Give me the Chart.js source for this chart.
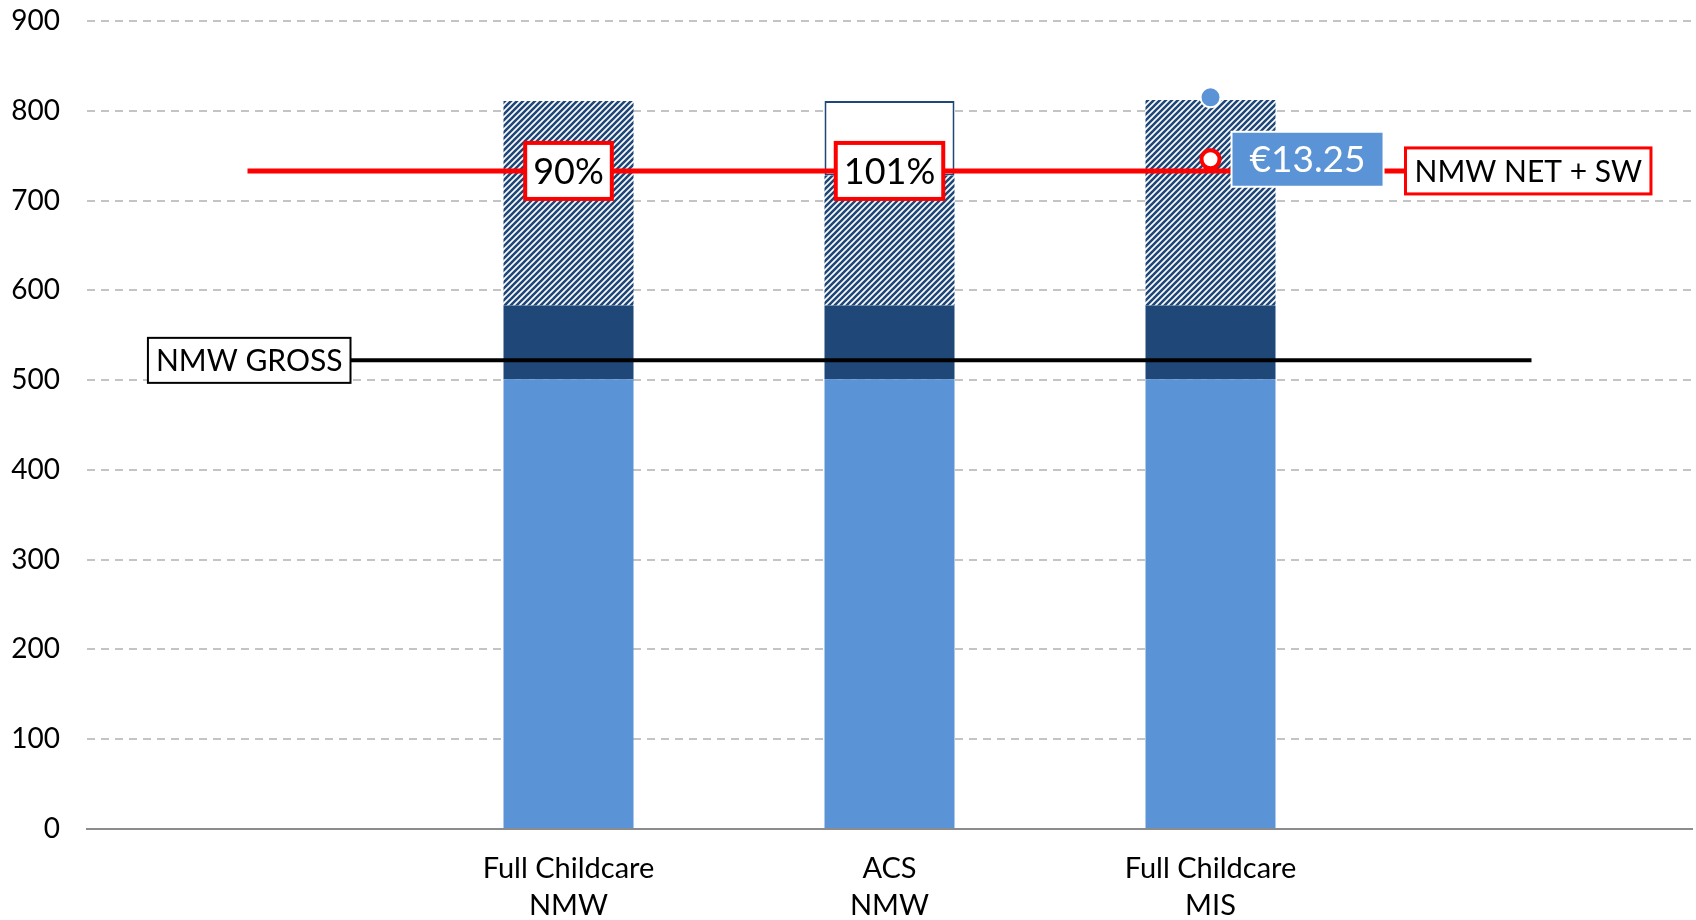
<!DOCTYPE html>
<html>
<head>
<meta charset="utf-8">
<script src="https://cdn.jsdelivr.net/npm/chart.js@4/dist/chart.umd.min.js"></script>
<style>
	html, body { margin: 0; padding: 0; background: #fff; }
	#wrap { width: 1696px; height: 920px; }
</style>
</head>
<body>
<div id="wrap"><canvas id="wage-chart" width="1696" height="920"></canvas></div>
<script>
// categories (first and last are empty slots the reference lines run through)
const categories = [
	"",
	["Full Childcare", "NMW"],
	["ACS", "NMW"],
	["Full Childcare", "MIS"],
	"",
];

// stacked bar segments
const baseIncome = [null, 501, 501, 501, null];
const navySegment = [null, 82, 82, 82, null];
const hatchedSegment = [null, 228, 145, 229, null];
const openSegment = [null, 0, 83, 0, null];

// reference lines
const nmwGross = [522, 522, 522, 522, 522];
const nmwNetSw = [733, 733, 733, 733, 733];

// markers on the MIS bar
const misTopPoint = [null, null, null, 815, null];
const misWagePoint = [null, null, null, 746, null];

// labels
const ratioLabels = [null, "90%", "101%", null, null];
const wageLabel = "€13.25";
const grossLabel = "NMW GROSS";
const netLabel = "NMW NET + SW";

const yTicks = [0, 100, 200, 300, 400, 500, 600, 700, 800, 900];

const LIGHT_BLUE = "#5a93d6";
const NAVY = "#1f4778";
const RED = "#ff0000";
const FONT = "Lato, 'Open Sans', sans-serif";

// diagonal hatch fill
function makeHatch() {
	const tile = document.createElement("canvas");
	tile.width = 6;
	tile.height = 6;
	const t = tile.getContext("2d");
	t.fillStyle = "#fff";
	t.fillRect(0, 0, 6, 6);
	t.strokeStyle = NAVY;
	t.lineWidth = 2.6;
	t.beginPath();
	t.moveTo(0, 6); t.lineTo(6, 0);
	t.moveTo(-1, 1); t.lineTo(1, -1);
	t.moveTo(5, 7); t.lineTo(7, 5);
	t.stroke();
	return document.getElementById("wage-chart").getContext("2d").createPattern(tile, "repeat");
}

function drawBox(ctx, x, cy, text, opts) {
	ctx.save();
	ctx.font = opts.font;
	const w = ctx.measureText(text).width + opts.padX * 2;
	const h = opts.height;
	let left = x;
	if (opts.align === "center") left = x - w / 2;
	if (opts.align === "right") left = x - w;
	ctx.fillStyle = opts.fill;
	ctx.fillRect(left, cy - h / 2, w, h);
	if (opts.stroke) {
		ctx.strokeStyle = opts.stroke;
		ctx.lineWidth = opts.lineWidth;
		ctx.strokeRect(left, cy - h / 2, w, h);
	}
	ctx.fillStyle = opts.color;
	ctx.textAlign = "center";
	ctx.textBaseline = "middle";
	ctx.fillText(text, left + w / 2, cy + 1);
	ctx.restore();
}

const labelPlugin = {
	id: "labelBoxes",
	afterDatasetsDraw(chart) {
		const ctx = chart.ctx;
		const xs = chart.scales.x;
		const ys = chart.scales.y;

		ratioLabels.forEach((txt, i) => {
			if (!txt) return;
			drawBox(ctx, xs.getPixelForValue(i), ys.getPixelForValue(nmwNetSw[i]), txt, {
				font: "36px " + FONT, padX: 8, height: 56, align: "center",
				fill: "#fff", stroke: RED, lineWidth: 4, color: "#000",
			});
		});

		drawBox(ctx, xs.getPixelForValue(0) + 103, ys.getPixelForValue(nmwGross[0]), grossLabel, {
			font: "30px " + FONT, padX: 8, height: 45, align: "right",
			fill: "#fff", stroke: "#000", lineWidth: 2, color: "#000",
		});

		drawBox(ctx, xs.getPixelForValue(4) - 126, ys.getPixelForValue(nmwNetSw[4]), netLabel, {
			font: "30px " + FONT, padX: 9, height: 46, align: "left",
			fill: "#fff", stroke: RED, lineWidth: 3, color: "#000",
		});

		drawBox(ctx, xs.getPixelForValue(3) + 21, ys.getPixelForValue(misWagePoint[3]), wageLabel, {
			font: "37px " + FONT, padX: 18, height: 55, align: "left",
			fill: LIGHT_BLUE, stroke: "#fff", lineWidth: 2, color: "#fff",
		});
	},
};

const wageCanvas = document.getElementById("wage-chart");
const hatch = makeHatch();

const wageChart = new Chart(wageCanvas, {
	type: "bar",
	data: {
		labels: categories,
		datasets: [
			{
				type: "line",
				data: misWagePoint,
				stack: "wagePoint",
				showLine: false,
				pointRadius: 9,
				pointBackgroundColor: "#fff",
				pointBorderColor: RED,
				pointBorderWidth: 4,
				order: 0,
			},
			{
				type: "line",
				data: misTopPoint,
				stack: "topPoint",
				showLine: false,
				pointRadius: 10,
				pointBackgroundColor: LIGHT_BLUE,
				pointBorderColor: "#fff",
				pointBorderWidth: 2,
				order: 0,
			},
			{
				type: "line",
				data: nmwNetSw,
				stack: "net",
				borderColor: RED,
				borderWidth: 5,
				pointRadius: 0,
				order: 1,
			},
			{
				type: "line",
				data: nmwGross,
				stack: "gross",
				borderColor: "#000",
				borderWidth: 4,
				pointRadius: 0,
				order: 1,
			},
			{
				data: baseIncome,
				backgroundColor: LIGHT_BLUE,
				stack: "s",
				order: 2,
			},
			{
				data: navySegment,
				backgroundColor: NAVY,
				stack: "s",
				order: 2,
			},
			{
				data: hatchedSegment,
				backgroundColor: hatch,
				stack: "s",
				order: 2,
			},
			{
				data: openSegment,
				backgroundColor: "#fff",
				borderColor: NAVY,
				borderWidth: 2,
				borderSkipped: false,
				stack: "s",
				order: 2,
			},
		],
	},
	options: {
		responsive: false,
		animation: false,
		events: [],
		layout: { autoPadding: false, padding: { top: 21, right: 4, bottom: 0, left: 0 } },
		datasets: {
			bar: { categoryPercentage: 1, barPercentage: 0.405 },
		},
		plugins: {
			legend: { display: false },
			tooltip: { enabled: false },
		},
		scales: {
			x: {
				stacked: true,
				grid: { display: false, drawTicks: false },
				border: { display: true, color: "#8c8c8c", width: 2 },
				ticks: {
					color: "#000",
					font: { family: FONT, size: 29, lineHeight: 1.25 },
					padding: 22,
					maxRotation: 0,
				},
				afterFit: (scale) => {
					scale.height = 91;
					scale.paddingLeft = 0;
					scale.paddingRight = 0;
				},
			},
			y: {
				stacked: true,
				min: 0,
				max: 900,
				afterBuildTicks: (scale) => {
					scale.ticks = yTicks.map((v) => ({ value: v }));
				},
				grid: {
					color: (c) => (c.tick.value === 0 ? "rgba(0,0,0,0)" : "#c4c4c4"),
					lineWidth: 2,
					drawTicks: false,
				},
				border: { display: false, dash: [8, 6] },
				ticks: {
					color: "#000",
					font: { family: FONT, size: 28 },
					padding: 27,
				},
				afterFit: (scale) => {
					scale.width = 87;
					scale.paddingTop = 0;
					scale.paddingBottom = 0;
				},
			},
		},
	},
	plugins: [labelPlugin],
});
</script>
</body>
</html>
